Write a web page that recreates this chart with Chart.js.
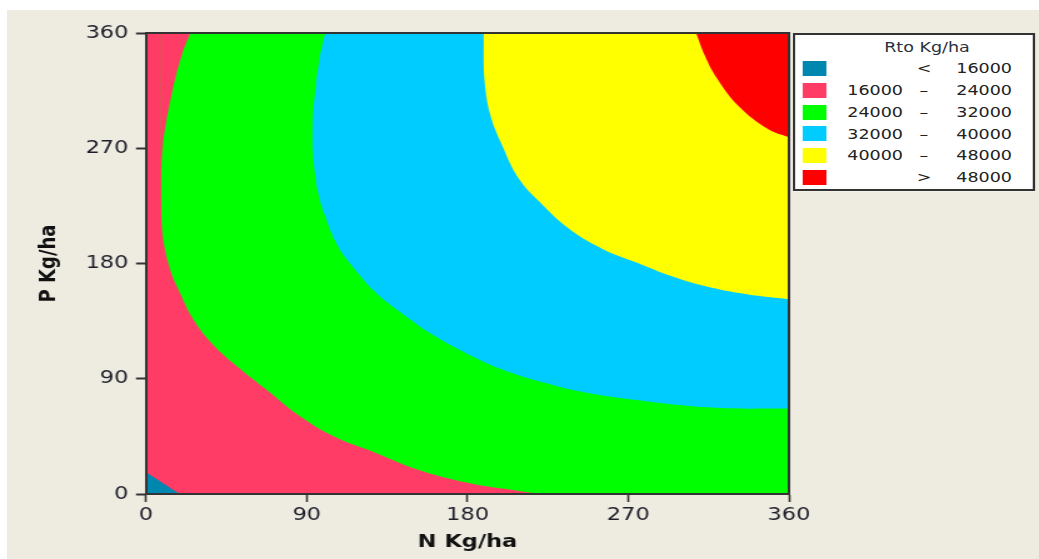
<!DOCTYPE html>
<html>
<head>
<meta charset="utf-8">
<script src="https://cdn.jsdelivr.net/npm/chart.js@4.4.1/dist/chart.umd.min.js"></script>
<style>
  html, body { margin: 0; padding: 0; width: 1039px; height: 559px; overflow: hidden; background: #ffffff; }
  #bg { position: absolute; left: 7px; top: 10px; right: 0; bottom: 0; background: #EEEBE0; }
  #wrap { position: absolute; left: 0; top: 0; width: 831px; height: 559px; transform-origin: 0 0; }
  #legend { position: absolute; box-sizing: border-box; border: 2px solid #333; background: #fff;
            font-family: 'DejaVu Sans', sans-serif; font-size: 14px; color: #222; }
  #legend .t { position: absolute; transform: translate(-50%, -50%); white-space: nowrap; color: #2b3040; }
  #legend .sw { position: absolute; }
  #legend .r { position: absolute; transform: translate(-100%, -50%); white-space: nowrap; }
  #legend .c { position: absolute; transform: translate(-50%, -50%); white-space: nowrap; }
</style>
</head>
<body>
<div id="bg"></div>
<div id="wrap">
  <canvas id="chart"></canvas>
  <div id="legend"></div>
</div>
<script>
// ---------- data ----------
const nTicks = [0, 90, 180, 270, 360];
const pTicks = [0, 90, 180, 270, 360];
const xTitle = 'N Kg/ha';
const yTitle = 'P Kg/ha';
const legendTitle = 'Rto Kg/ha';
const classLow  = ['', '16000', '24000', '32000', '40000', ''];
const classOp   = ['<', '–', '–', '–', '–', '>'];
const classHigh = ['16000', '24000', '32000', '40000', '48000', '48000'];
const classColors = ['#0087AF', '#FF3C66', '#00FF00', '#00CCFF', '#FFFF00', '#FF0000'];

// contour lines as [N, P] pairs
const contour16000 = [[0, 17], [19, 0]];
const contour24000Upper = [[8.3, 233], [9.4, 272], [14.2, 311], [20, 342.6], [24.8, 360]];
const contour24000Lower = [[8.3, 233], [9.4, 201.5], [13.6, 175], [19.4, 156], [26, 137.4], [36.6, 118],
  [53.1, 97.2], [67.3, 81.6], [86.2, 60.7], [105, 45.1], [128.7, 32.1], [152.3, 19], [180.6, 8.6],
  [204.2, 3.4], [225.4, 0], [360, 0]];
const contour32000Upper = [[93.2, 272], [93.7, 298], [96.8, 337], [100.3, 360]];
const contour32000Lower = [[93.2, 272], [95.6, 240.6], [100.3, 217], [107.4, 193.7], [116.9, 175.5],
  [128.7, 157.2], [142.8, 141.6], [161.7, 123.3], [180.6, 109], [199.5, 97.2], [223.1, 86.8],
  [246.7, 79], [279.7, 72.5], [319.9, 67.3], [360, 66.7]];
const contour40000 = [[188.9, 360], [189.2, 329], [192.4, 298], [199.5, 272], [208.9, 245.9], [220.7, 227.6],
  [237.2, 206.7], [256.1, 191], [275, 180.6], [293.9, 170.2], [312.8, 162.4], [336.4, 155.9], [360, 152]];
const contour48000 = [[308, 360], [312.8, 342.6], [319.9, 324], [331.7, 303], [348.2, 285], [360, 278.4]];
const fullTop = [[0, 360], [360, 360]];

// ---------- layout ----------
const PAGE_W = 1039, INNER_W = 831;
const K = PAGE_W / INNER_W;               // horizontal stretch of the original picture
document.getElementById('wrap').style.transform = 'scaleX(' + K + ')';
const plotLeft = 146 / K, plotRight = 789 / K;
const FONT = "'DejaVu Sans', sans-serif";

// ---------- legend (HTML) ----------
(function buildLegend() {
  const lg = document.getElementById('legend');
  const L = 793 / K, R = 1035 / K;
  lg.style.left = L + 'px'; lg.style.top = '33px';
  lg.style.width = (R - L) + 'px'; lg.style.height = '158px';
  const ox = L + 2, oy = 33 + 2;
  const add = (cls, txt, x, y) => { const d = document.createElement('div'); d.className = cls; d.textContent = txt;
    d.style.left = (x - ox) + 'px'; d.style.top = (y - oy) + 'px'; lg.appendChild(d); return d; };
  add('t', legendTitle, 927 / K, 47);
  const rowY = [68, 90, 112, 133.5, 155, 177];
  classColors.forEach((c, i) => {
    const s = document.createElement('div'); s.className = 'sw';
    s.style.left = (803 / K - ox) + 'px'; s.style.top = (rowY[i] - 7.5 - oy) + 'px';
    s.style.width = (24 / K) + 'px'; s.style.height = '15px'; s.style.background = c;
    lg.appendChild(s);
    if (classLow[i]) add('r', classLow[i], 903 / K, rowY[i]);
    add('c', classOp[i], 924 / K, rowY[i]);
    add('r', classHigh[i], 1012 / K, rowY[i]);
  });
})();

// ---------- chart ----------
const pts = arr => arr.map(([x, y]) => ({ x, y }));
const layer = (label, arr, color, fill, order) => ({
  label, data: pts(arr), backgroundColor: color, borderColor: 'rgba(0,0,0,0)', borderWidth: 0,
  pointRadius: 0, pointHoverRadius: 0, pointHitRadius: 0, fill, order, tension: 0.4
});

const datasets = [
  layer('16000 – 24000', fullTop, classColors[1], 'start', 10),
  layer('< 16000', contour16000, classColors[0], 'start', 9),
  layer('24000 – 32000', contour24000Lower, classColors[2], 'end', 8),
  layer('16000 – 24000 ', contour24000Upper, classColors[1], 'end', 7),
  layer('32000 – 40000', contour32000Lower, classColors[3], 'end', 6),
  layer('24000 – 32000 ', contour32000Upper, classColors[2], 'end', 5),
  layer('40000 – 48000', contour40000, classColors[4], 'end', 4),
  layer('> 48000', contour48000, classColors[5], 'end', 3)
];

const tickFont = { family: FONT, size: 18 };
const titleFont = { family: FONT, size: 18, weight: 'bold' };
const frame = { display: true, color: '#333', width: 2, z: 1 };

new Chart(document.getElementById('chart'), {
  type: 'line',
  data: { datasets },
  options: {
    responsive: true, maintainAspectRatio: false, animation: false, events: [],
    layout: { padding: { left: 0, top: 33, right: INNER_W - plotRight, bottom: 0 } },
    plugins: { legend: { display: false }, tooltip: { enabled: false } },
    scales: {
      x: {
        type: 'linear', position: 'bottom', min: 0, max: 360,
        afterBuildTicks: s => { s.ticks = nTicks.map(v => ({ value: v })); },
        ticks: { font: tickFont, color: '#1e1e2a', padding: 3, maxRotation: 0, autoSkip: false },
        grid: { display: true, drawOnChartArea: false, drawTicks: true, tickLength: 8, tickColor: '#333', tickWidth: 1.6 },
        border: frame,
        title: { display: true, text: xTitle, font: titleFont, color: '#111', padding: { top: 0, bottom: 6 } },
        afterFit: s => { s.height = 559 - 494; }
      },
      y: {
        type: 'linear', position: 'left', min: 0, max: 360,
        afterBuildTicks: s => { s.ticks = pTicks.map(v => ({ value: v })); },
        ticks: { font: tickFont, color: '#1e1e2a', padding: 6, autoSkip: false },
        grid: { display: true, drawOnChartArea: false, drawTicks: true, tickLength: 8, tickColor: '#333', tickWidth: 2 },
        border: frame,
        title: { display: true, text: yTitle, font: titleFont, color: '#111', padding: { top: 29, bottom: 0 } },
        afterFit: s => { s.width = plotLeft; }
      },
      x2: {
        type: 'linear', position: 'top', min: 0, max: 360,
        ticks: { display: false }, grid: { display: false, drawTicks: false }, border: frame,
        afterFit: s => { s.height = 0; }
      },
      y2: {
        type: 'linear', position: 'right', min: 0, max: 360,
        ticks: { display: false }, grid: { display: false, drawTicks: false }, border: frame,
        afterFit: s => { s.width = 0; }
      }
    }
  }
});
</script>
</body>
</html>
